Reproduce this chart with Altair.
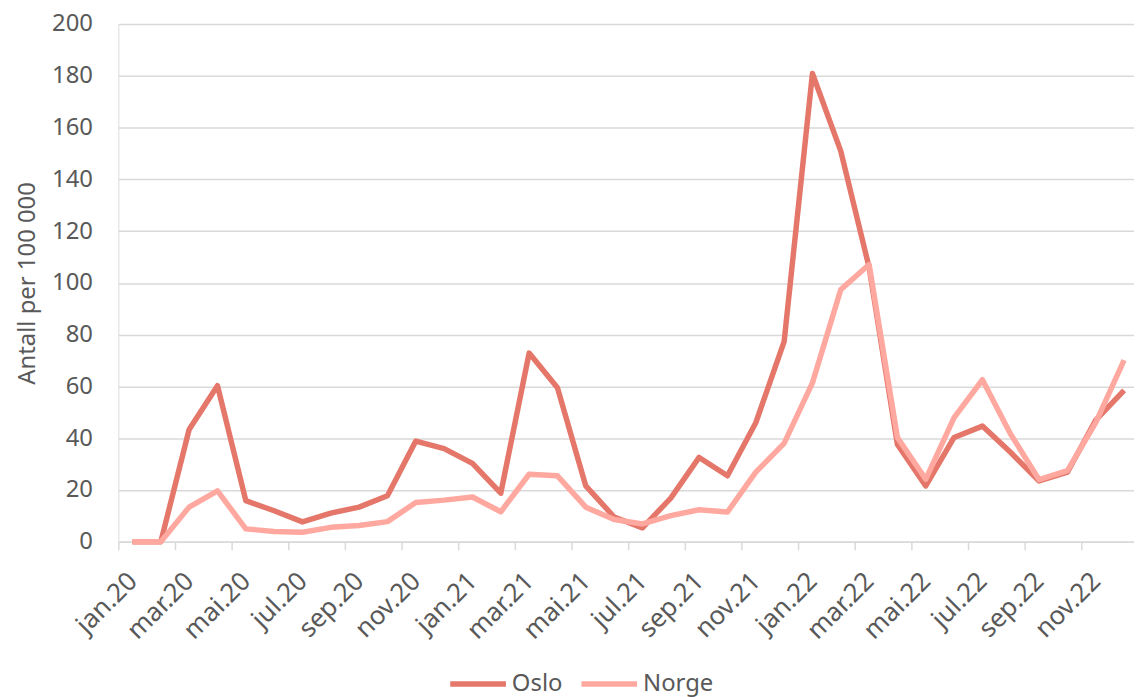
import altair as alt
import pandas as pd

months = [
    "jan.20", "feb.20", "mar.20", "apr.20", "mai.20", "jun.20", "jul.20", "aug.20", "sep.20", "okt.20", "nov.20", "des.20",
    "jan.21", "feb.21", "mar.21", "apr.21", "mai.21", "jun.21", "jul.21", "aug.21", "sep.21", "okt.21", "nov.21", "des.21",
    "jan.22", "feb.22", "mar.22", "apr.22", "mai.22", "jun.22", "jul.22", "aug.22", "sep.22", "okt.22", "nov.22", "des.22",
]
oslo = [0, 0, 43.4, 60.3, 15.9, 12.0, 7.7, 11.1, 13.4, 17.8, 38.9, 36.0,
        30.3, 18.8, 72.9, 59.5, 21.6, 9.6, 5.4, 16.9, 32.6, 25.5, 46.0, 77.3,
        180.9, 150.9, 106.0, 37.6, 21.6, 40.3, 44.7, 34.5, 23.5, 26.9, 47.0, 58.5]
norge = [0, 0, 13.4, 19.7, 5.0, 4.0, 3.7, 5.6, 6.3, 7.8, 15.2, 16.1,
         17.3, 11.6, 26.1, 25.5, 13.4, 8.6, 6.9, 10.1, 12.4, 11.5, 26.9, 38.0,
         61.4, 97.4, 107.1, 40.3, 24.2, 48.0, 62.6, 41.5, 24.0, 27.5, 46.0, 70.2]
series = ["Oslo", "Norge"]
colors = ["#E4766A", "#FFA8A0"]
y_ticks = list(range(0, 201, 20))

rows = []
for name, vals in zip(series, [oslo, norge]):
    for i, v in enumerate(vals):
        rows.append({"idx": i, "month": months[i], "serie": name, "value": v})
df = pd.DataFrame(rows)

W = 1022
H = 521
lo, hi = -0.5, 35.35
half = W / (hi - lo) / 2

label_map = "{" + ",".join(f"'{i}':'{m}'" for i, m in enumerate(months)) + "}"
font = "Noto Sans"
txt = "#595959"

chart = alt.Chart(df).mark_line(strokeWidth=5.5, strokeJoin="round").encode(
    x=alt.X("idx:Q", scale=alt.Scale(domain=[lo, hi], nice=False, zero=False),
            axis=alt.Axis(values=list(range(0, 36, 2)), title=None, grid=False,
                          labelExpr=f"{label_map}[''+datum.value]",
                          tickOffset=-half, labelOffset=half,
                          labelAngle=315, labelAlign="right", labelBaseline="middle",
                          labelPadding=27, tickSize=8, tickColor="#D9D9D9", tickWidth=1.5,
                          domainColor="#D9D9D9", domainWidth=1.5,
                          labelFontSize=26, labelColor=txt, labelFont=font,
                          labelOverlap=False, labelBound=False, labelFlush=False)),
    y=alt.Y("value:Q", scale=alt.Scale(domain=[0, 200], nice=False),
            axis=alt.Axis(values=y_ticks, title="Antall per 100 000", domain=False, ticks=False,
                          gridColor="#D9D9D9", gridWidth=1.5, labelPadding=26,
                          labelFontSize=24, labelColor=txt, labelFont=font,
                          titleFontSize=24, titleColor=txt, titleFont=font,
                          titleFontWeight="normal", titlePadding=12)),
    color=alt.Color("serie:N", scale=alt.Scale(domain=series, range=colors),
                    legend=alt.Legend(title=None, orient="none", legendX=331, legendY=633,
                                      direction="horizontal", symbolType="stroke",
                                      symbolSize=3136, symbolStrokeWidth=5.5,
                                      labelFontSize=24, labelColor=txt, labelFont=font,
                                      labelOffset=3, columnPadding=8, padding=0)),
    order=alt.Order("idx:Q"),
).properties(
    width=W, height=H,
    autosize=alt.AutoSizeParams(type="none"),
    padding={"left": 111, "top": 14, "right": 0, "bottom": 154},
).configure_view(stroke=None).configure(background="white")

chart.save("out.html", embed_options={"renderer": "svg", "actions": False})
